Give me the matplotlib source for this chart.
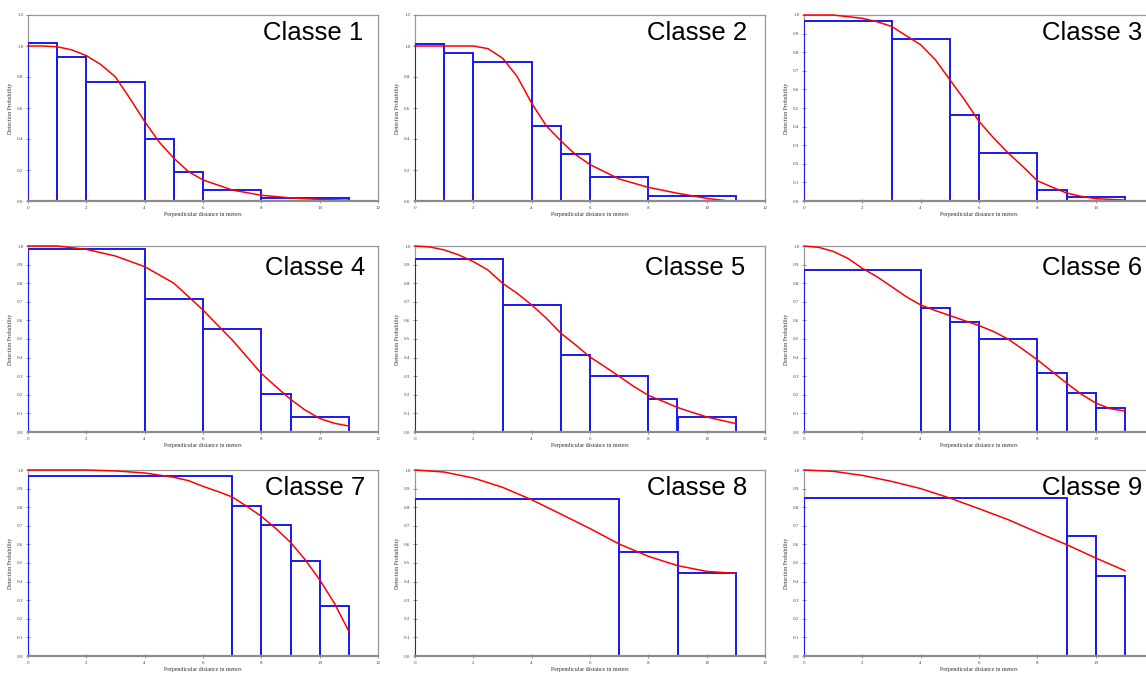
import matplotlib
matplotlib.use('Agg')
import matplotlib.pyplot as plt

# histogram bins (edges) and heights, fitted detection curve points, per class
c1_edges = [0, 1, 2, 4, 5, 6, 8, 11]
c1_heights = [1.017, 0.927, 0.765, 0.399, 0.188, 0.069, 0.017]
c1_x = [0, 0.5, 1, 1.5, 2, 2.5, 3, 3.5, 4, 4.5, 5, 5.5, 6, 7, 8, 9, 10, 11]
c1_y = [1.0, 1.0, 0.995, 0.975, 0.938, 0.88, 0.80, 0.66, 0.513, 0.38, 0.276, 0.19, 0.136, 0.071, 0.037, 0.02, 0.01, 0.005]

c2_edges = [0, 1, 2, 4, 5, 6, 8, 11]
c2_heights = [1.013, 0.955, 0.899, 0.483, 0.304, 0.153, 0.032]
c2_x = [0, 1, 2, 2.5, 3, 3.5, 4, 4.5, 5, 5.5, 6, 7, 8, 9, 10, 10.75]
c2_y = [1.0, 1.0, 1.0, 0.983, 0.922, 0.804, 0.631, 0.485, 0.388, 0.30, 0.235, 0.142, 0.088, 0.05, 0.017, 0.0]

c3_edges = [0, 3, 5, 6, 8, 9, 11]
c3_heights = [0.970, 0.872, 0.461, 0.256, 0.061, 0.02]
c3_x = [0, 1, 2, 2.5, 3, 3.5, 4, 4.5, 5, 5.5, 6, 6.5, 7, 7.5, 8, 8.5, 9, 9.5, 10, 11]
c3_y = [1.0, 1.0, 0.982, 0.964, 0.939, 0.889, 0.84, 0.76, 0.652, 0.545, 0.428, 0.339, 0.258, 0.186, 0.109, 0.075, 0.043, 0.025, 0.0125, 0.005]

c4_edges = [0, 4, 6, 8, 9, 11]
c4_heights = [0.983, 0.716, 0.552, 0.202, 0.082]
c4_x = [0, 1, 2, 3, 4, 5, 5.5, 6, 6.5, 7, 7.5, 8, 8.5, 9, 9.5, 10, 10.5, 11]
c4_y = [1.0, 1.0, 0.982, 0.946, 0.889, 0.80, 0.728, 0.656, 0.575, 0.495, 0.405, 0.315, 0.244, 0.176, 0.118, 0.073, 0.047, 0.032]

c5_edges = [0, 3, 5, 6, 8, 9, 11]
c5_heights = [0.932, 0.683, 0.413, 0.302, 0.177, 0.081]
c5_x = [0, 0.5, 1, 1.5, 2, 2.5, 3, 3.5, 4, 4.5, 5, 5.5, 6, 6.5, 7, 7.5, 8, 8.5, 9, 9.5, 10, 10.5, 11]
c5_y = [1.0, 0.995, 0.979, 0.952, 0.916, 0.871, 0.80, 0.746, 0.683, 0.612, 0.531, 0.469, 0.403, 0.352, 0.299, 0.245, 0.197, 0.165, 0.132, 0.106, 0.081, 0.063, 0.045]

c6_edges = [0, 4, 5, 6, 8, 9, 10, 11]
c6_heights = [0.869, 0.665, 0.590, 0.499, 0.318, 0.209, 0.127]
c6_x = [0, 0.5, 1, 1.5, 2, 2.5, 3, 3.5, 4, 4.5, 5, 5.5, 6, 6.5, 7, 7.5, 8, 8.5, 9, 9.5, 10, 10.5, 11]
c6_y = [1.0, 0.993, 0.971, 0.934, 0.880, 0.835, 0.782, 0.728, 0.683, 0.653, 0.626, 0.599, 0.572, 0.540, 0.499, 0.445, 0.388, 0.326, 0.263, 0.204, 0.156, 0.125, 0.113]

c7_edges = [0, 7, 8, 9, 10, 11]
c7_heights = [0.968, 0.806, 0.703, 0.513, 0.271]
c7_x = [0, 2, 3, 4, 5, 5.5, 6, 6.5, 7, 7.5, 8, 8.5, 9, 9.5, 10, 10.5, 11]
c7_y = [1.0, 1.0, 0.995, 0.984, 0.961, 0.943, 0.912, 0.885, 0.855, 0.805, 0.751, 0.685, 0.611, 0.518, 0.41, 0.285, 0.133]

c8_edges = [0, 7, 9, 11]
c8_heights = [0.846, 0.561, 0.444]
c8_x = [0, 1, 2, 3, 4, 5, 6, 7, 8, 9, 10, 11]
c8_y = [1.0, 0.989, 0.957, 0.907, 0.84, 0.763, 0.685, 0.602, 0.536, 0.486, 0.455, 0.444]

c9_edges = [0, 9, 10, 11]
c9_heights = [0.849, 0.647, 0.428]
c9_x = [0, 1, 2, 3, 4, 5, 6, 7, 8, 9, 10, 11]
c9_y = [1.0, 0.993, 0.971, 0.939, 0.90, 0.849, 0.792, 0.733, 0.665, 0.599, 0.527, 0.459]

classes = [
    ('Classe 1', c1_edges, c1_heights, c1_x, c1_y, 1.2),
    ('Classe 2', c2_edges, c2_heights, c2_x, c2_y, 1.2),
    ('Classe 3', c3_edges, c3_heights, c3_x, c3_y, 1.0),
    ('Classe 4', c4_edges, c4_heights, c4_x, c4_y, 1.0),
    ('Classe 5', c5_edges, c5_heights, c5_x, c5_y, 1.0),
    ('Classe 6', c6_edges, c6_heights, c6_x, c6_y, 1.0),
    ('Classe 7', c7_edges, c7_heights, c7_x, c7_y, 1.0),
    ('Classe 8', c8_edges, c8_heights, c8_x, c8_y, 1.0),
    ('Classe 9', c9_edges, c9_heights, c9_x, c9_y, 1.0),
]

W, H = 1146, 673
col_left = [28, 415, 804]
col_width = 350
row_top = [15, 246, 470]
row_height = 186
title_xfrac = [0.957, 0.949, 0.966, 0.963, 0.943, 0.966, 0.963, 0.949, 0.966]
title_yfrac = [0.903, 0.903, 0.903, 0.882, 0.882, 0.882, 0.903, 0.903, 0.903]

SERIF = 'Liberation Serif'
fig = plt.figure(figsize=(W / 100, H / 100), dpi=100)

for i, (name, edges, heights, cx, cy, ytop) in enumerate(classes):
    r, c = divmod(i, 3)
    left = col_left[c] / W
    bottom = 1 - (row_top[r] + row_height) / H
    ax = fig.add_axes([left, bottom, col_width / W, row_height / H])

    lefts = edges[:-1]
    widths = [b - a for a, b in zip(edges[:-1], edges[1:])]
    ax.bar(lefts, heights, width=widths, align='edge', fill=False,
           edgecolor='#1a1aee', linewidth=1.4, zorder=2)
    ax.plot(cx, cy, color='red', linewidth=1.1, zorder=3, clip_on=False)

    ax.set_xlim(0, 12)
    ax.set_ylim(0, ytop)
    # the right-hand column runs off the page, so its "12" is not shown
    xt = list(range(0, 11, 2)) if c == 2 else list(range(0, 13, 2))
    ax.set_xticks(xt)
    ax.set_xticklabels([str(v) for v in xt])
    if ytop > 1.0:
        yt = [0.0, 0.2, 0.4, 0.6, 0.8, 1.0, 1.2]
    else:
        yt = [k / 10 for k in range(11)]
    ax.set_yticks(yt)
    ax.set_yticklabels(['%.1f' % v for v in yt])
    ax.tick_params(direction='inout', length=2.5, width=0.6, colors='#808080',
                   labelcolor='#444444', labelsize=3.6, pad=2)
    for lab in ax.get_xticklabels() + ax.get_yticklabels():
        lab.set_fontfamily(SERIF)
    for s in ax.spines.values():
        s.set_color('#999999')
        s.set_linewidth(0.9)
        s.set_zorder(1)
    ax.spines['bottom'].set_linewidth(1.6)
    ax.spines['bottom'].set_color('#8c8c8c')
    ax.spines['bottom'].set_zorder(4)

    ax.set_xlabel('Perpendicular distance in meters', fontsize=4.2,
                  family=SERIF, color='#333333', labelpad=1.5)
    ax.set_ylabel('Detection Probability', fontsize=4.2,
                  family=SERIF, color='#333333', labelpad=3)
    ax.text(title_xfrac[i], title_yfrac[i], name, transform=ax.transAxes,
            ha='right', va='center', fontsize=18.5,
            family='Liberation Sans', color='black', zorder=5)

fig.savefig('out.png', dpi=100)
